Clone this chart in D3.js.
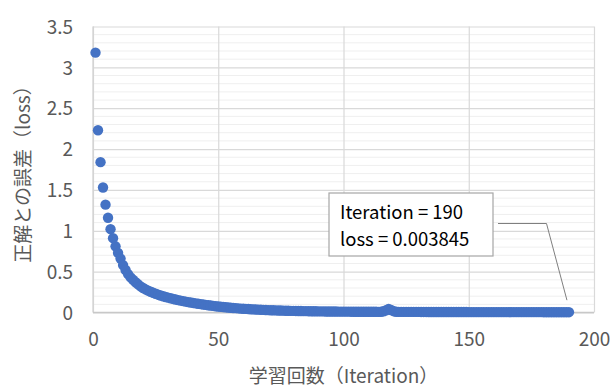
<!DOCTYPE html>
<html><head><meta charset="utf-8">
<script src="https://cdn.jsdelivr.net/npm/d3@7"></script>
<style>
html,body{margin:0;padding:0;background:#fff;}
svg{display:block;}
</style></head>
<body>
<svg id="chart" width="614" height="387"></svg>
<script>
// ---- data ----
const loss = [
 3.18, 2.23, 1.84, 1.53, 1.32, 1.16, 1.02, 0.91, 0.81, 0.73,
 0.66, 0.58, 0.52, 0.47, 0.43, 0.40, 0.37, 0.345, 0.32, 0.30,
 0.283, 0.268, 0.254, 0.241, 0.229, 0.218, 0.208, 0.199, 0.190, 0.182,
 0.174, 0.166, 0.159, 0.152, 0.145, 0.139, 0.133, 0.127, 0.122, 0.117,
 0.112, 0.107, 0.102, 0.097, 0.093, 0.089, 0.085, 0.081, 0.077, 0.074,
 0.070, 0.067, 0.064, 0.061, 0.058, 0.055, 0.053, 0.050, 0.048, 0.046,
 0.044, 0.042, 0.040, 0.038, 0.036, 0.035, 0.033, 0.032, 0.030, 0.029,
 0.028, 0.027, 0.026, 0.025, 0.024, 0.023, 0.022, 0.021, 0.020, 0.0195,
 0.019, 0.018, 0.0175, 0.017, 0.0165, 0.016, 0.0155, 0.015, 0.0145, 0.014,
 0.0136, 0.0132, 0.0128, 0.0125, 0.0122, 0.0119, 0.0116, 0.0113, 0.011, 0.0107,
 0.0105, 0.0102, 0.0100, 0.0098, 0.0096, 0.0094, 0.0092, 0.0090, 0.0088, 0.0087,
 0.0085, 0.0084, 0.0083, 0.0082, 0.0090, 0.0150, 0.028, 0.042, 0.030, 0.016,
 0.0095, 0.0080, 0.0078, 0.0077, 0.0076, 0.0075, 0.0074, 0.0073, 0.0072, 0.0071,
 0.0070, 0.0069, 0.0068, 0.0067, 0.0066, 0.0065, 0.0064, 0.0063, 0.0062, 0.0061,
 0.0060, 0.0059, 0.0058, 0.0057, 0.0056, 0.0055, 0.0055, 0.0054, 0.0053, 0.0052,
 0.0052, 0.0051, 0.0050, 0.0050, 0.0049, 0.0048, 0.0048, 0.0047, 0.0047, 0.0046,
 0.00455, 0.0045, 0.00445, 0.0044, 0.00435, 0.0043, 0.00428, 0.00425, 0.00422, 0.0042,
 0.00418, 0.00415, 0.00412, 0.0041, 0.00407, 0.00404, 0.00402, 0.0040, 0.00398, 0.00396,
 0.00395, 0.00394, 0.00393, 0.00392, 0.00391, 0.0039, 0.00389, 0.00388, 0.00386, 0.003845
];
const xTicks = [0, 50, 100, 150, 200];
const yTicks = [0, 0.5, 1, 1.5, 2, 2.5, 3, 3.5];
const yMinorTicks = [0.1,0.2,0.3,0.4,0.6,0.7,0.8,0.9,1.1,1.2,1.3,1.4,1.6,1.7,1.8,1.9,2.1,2.2,2.3,2.4,2.6,2.7,2.8,2.9,3.1,3.2,3.3,3.4];
const xTitle = "学習回数（Iteration）";
const yTitle = "正解との誤差（loss）";
const annotation = ["Iteration = 190", "loss = 0.003845"];
const annotatedIteration = 190;

// ---- layout ----
const svg = d3.select("#chart");
const L = 93, R = 594, T = 26.5, B = 312.5;
const x = d3.scaleLinear().domain([0, 200]).range([L, R]);
const y = d3.scaleLinear().domain([0, 3.5]).range([B, T]);
const font = "'Noto Sans CJK JP','Noto Sans',sans-serif";
const textCol = "#595959";

const points = loss.map((v, i) => ({it: i + 1, v}));

// minor gridlines
svg.append("g").selectAll("line").data(yMinorTicks).join("line")
  .attr("x1", L).attr("x2", R)
  .attr("y1", d => y(d)).attr("y2", d => y(d))
  .attr("stroke", "#efefef").attr("stroke-width", 1);

// major gridlines
const yGrid = svg.append("g").attr("transform", `translate(${L},0)`)
  .call(d3.axisLeft(y).tickValues(yTicks).tickSize(-(R - L)).tickFormat(""));
yGrid.select(".domain").remove();
yGrid.selectAll("line").attr("stroke", "#d9d9d9").attr("stroke-width", 1.2);

const xGrid = svg.append("g").attr("transform", `translate(0,${B})`)
  .call(d3.axisBottom(x).tickValues(xTicks).tickSize(-(B - T)).tickFormat(""));
xGrid.select(".domain").remove();
xGrid.selectAll("line").attr("stroke", "#d9d9d9").attr("stroke-width", 1.2);

svg.append("line").attr("x1", L).attr("x2", L).attr("y1", T).attr("y2", B)
  .attr("stroke", "#d0d0d0").attr("stroke-width", 1.2);
svg.append("line").attr("x1", L).attr("x2", R).attr("y1", B).attr("y2", B)
  .attr("stroke", "#c8c8c8").attr("stroke-width", 1.4);

// tick labels
const yAx = svg.append("g").attr("transform", `translate(${L - 20},0)`)
  .call(d3.axisLeft(y).tickValues(yTicks).tickSize(0).tickFormat(d => d3.format("")(d)));
yAx.select(".domain").remove();
yAx.selectAll("text").attr("font-family", font).attr("font-size", 19)
  .attr("fill", textCol).attr("dy", "0.35em").attr("x", 0);

const xAx = svg.append("g").attr("transform", `translate(0,${B + 20})`)
  .call(d3.axisBottom(x).tickValues(xTicks).tickSize(0));
xAx.select(".domain").remove();
xAx.selectAll("text").attr("font-family", font).attr("font-size", 19)
  .attr("fill", textCol).attr("dy", "0.71em").attr("y", 0);

// titles
svg.append("text").attr("x", (L + R) / 2).attr("y", 374)
  .attr("text-anchor", "middle").attr("dominant-baseline", "central")
  .attr("font-family", font).attr("font-size", 19).attr("fill", textCol)
  .text(xTitle);
svg.append("text").attr("transform", `translate(21,${(T + B) / 2}) rotate(-90)`)
  .attr("text-anchor", "middle").attr("dominant-baseline", "central")
  .attr("font-family", font).attr("font-size", 19).attr("fill", textCol)
  .text(yTitle);

// points
svg.append("g").selectAll("circle").data(points).join("circle")
  .attr("cx", d => x(d.it)).attr("cy", d => y(d.v)).attr("r", 5.2)
  .attr("fill", "#4472C4");

// annotation
const target = points.find(p => p.it === annotatedIteration);
const bx = 329, by = 193, bw = 164, bh = 63;
svg.append("polyline")
  .attr("points", [[498, 223.5], [546.5, 223.5], [x(target.it) - 2, y(target.v) - 12]].map(p => p.join(",")).join(" "))
  .attr("fill", "none").attr("stroke", "#7f7f7f").attr("stroke-width", 1);
svg.append("rect").attr("x", bx).attr("y", by).attr("width", bw).attr("height", bh)
  .attr("fill", "#fff").attr("stroke", "#a6a6a6").attr("stroke-width", 1.2);
svg.append("g").selectAll("text").data(annotation).join("text")
  .attr("x", bx + 11).attr("y", (d, i) => by + 26 + i * 27)
  .attr("font-family", font).attr("font-size", 18.5).attr("fill", "#000")
  .text(d => d);
</script>
</body></html>
